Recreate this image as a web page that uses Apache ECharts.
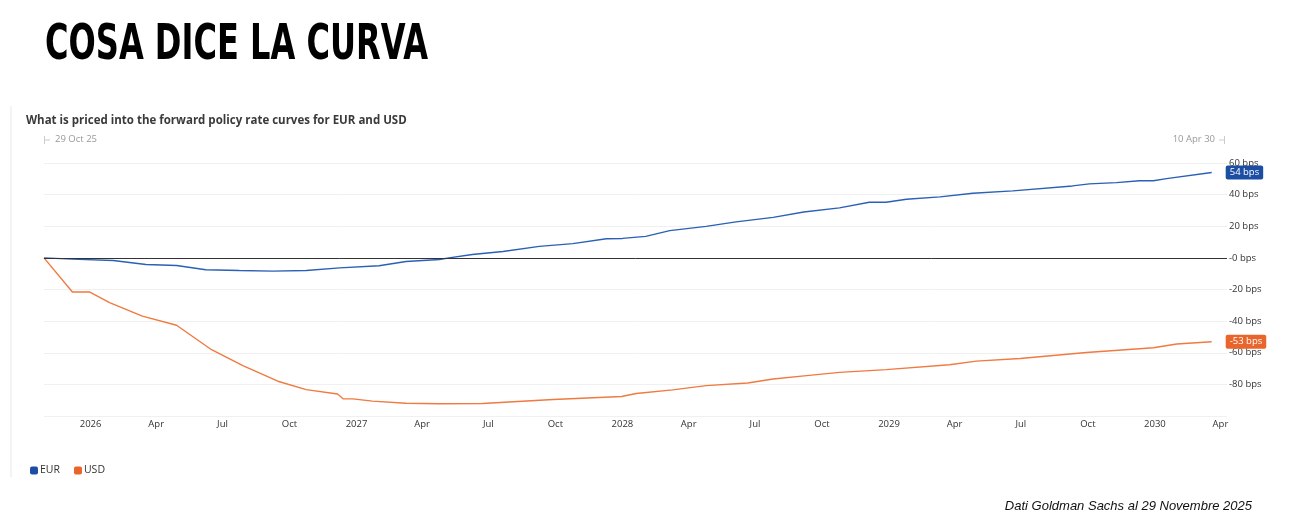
<!DOCTYPE html>
<html>
<head>
<meta charset="utf-8">
<script src="https://cdn.jsdelivr.net/npm/echarts@6/dist/echarts.min.js"></script>
<style>
html,body{margin:0;padding:0;background:#fff;}
#chart{width:1289px;height:523px;}
</style>
</head>
<body>
<div id="chart"></div>
<script>
// ---- data ----
const seriesNames = ['EUR', 'USD'];
const eurDates = ['2025-10-29','2025-12-07','2026-02-01','2026-03-18','2026-04-29','2026-06-08','2026-07-24','2026-09-08','2026-10-24','2026-12-09','2027-02-01','2027-03-10','2027-04-25','2027-05-08','2027-06-09','2027-07-21','2027-09-09','2027-10-25','2027-12-10','2028-01-01','2028-02-02','2028-03-06','2028-04-25','2028-06-05','2028-07-26','2028-09-06','2028-10-25','2028-12-05','2028-12-28','2029-01-25','2029-03-12','2029-04-26','2029-06-20','2029-09-10','2029-10-03','2029-11-09','2029-12-11','2029-12-30','2030-01-17','2030-03-20'];
const eurValues = [0,-0.8,-1.7,-4.2,-4.8,-7.5,-8.0,-8.4,-8.0,-6.3,-5.0,-2.3,-1.0,0,2.1,4.0,7.3,9.0,12.1,12.3,13.6,17.2,19.9,22.8,25.6,29.0,31.6,35.2,35.2,37.1,38.6,40.9,42.4,45.5,46.8,47.6,48.8,48.8,50.1,54.0];
const usdDates = ['2025-10-29','2025-12-07','2025-12-31','2026-01-27','2026-03-13','2026-04-29','2026-06-16','2026-07-29','2026-09-15','2026-10-24','2026-12-06','2026-12-14','2026-12-27','2027-01-23','2027-03-10','2027-04-25','2027-06-23','2027-09-28','2027-12-31','2028-01-20','2028-03-10','2028-04-25','2028-06-21','2028-07-26','2028-09-10','2028-10-25','2028-12-28','2029-03-25','2029-05-01','2029-06-30','2029-09-29','2029-12-30','2030-01-31','2030-03-20'];
const usdValues = [0,-21.6,-21.6,-28.3,-36.8,-42.6,-58.1,-68.2,-78.0,-83.3,-86.1,-89.2,-89.2,-90.6,-91.9,-92.3,-92.1,-89.6,-87.7,-85.8,-83.5,-80.8,-79.1,-76.6,-74.5,-72.4,-70.7,-67.6,-65.3,-63.6,-59.8,-56.8,-54.5,-53.0];
const tickDates = ['2026-01-01','2026-04-01','2026-07-01','2026-10-01','2027-01-01','2027-04-01','2027-07-01','2027-10-01','2028-01-01','2028-04-01','2028-07-01','2028-10-01','2029-01-01','2029-04-01','2029-07-01','2029-10-01','2030-01-01','2030-04-01'];
const tickLabels = ['2026','Apr','Jul','Oct','2027','Apr','Jul','Oct','2028','Apr','Jul','Oct','2029','Apr','Jul','Oct','2030','Apr'];
const xStart = '2025-10-29';
const xEnd = '2030-04-10';
const rangeLabels = ['29 Oct 25', '10 Apr 30'];
const titleText = 'COSA DICE LA CURVA';
const subtitleText = 'What is priced into the forward policy rate curves for EUR and USD';
const footnoteText = 'Dati Goldman Sachs al 29 Novembre 2025';

// ---- build ----
const ts = d => new Date(d + 'T00:00:00Z').getTime();
const tickTs = tickDates.map(ts);
const labelByTs = {};
tickTs.forEach((t, i) => { labelByTs[t] = tickLabels[i]; });
const eurData = eurDates.map((d, i) => [ts(d), eurValues[i]]);
const usdData = usdDates.map((d, i) => [ts(d), usdValues[i]]);

const EUR_LINE = '#2a60b6', EUR_BOX = '#1c4fa3';
const USD_LINE = '#f07a40', USD_BOX = '#e9652c';
const FONT = '"Open Sans", "Noto Sans", sans-serif';

const chart = echarts.init(document.getElementById('chart'), null, {renderer: 'canvas'});
chart.setOption({
  animation: false,
  backgroundColor: '#fff',
  textStyle: {fontFamily: FONT},
  grid: {left: 44, right: 62, top: 163, bottom: 107, containLabel: false},
  legend: {
    data: seriesNames,
    left: 25, top: 460,
    icon: 'roundRect', itemWidth: 8, itemHeight: 8, itemGap: 14,
    textStyle: {fontSize: 10.5, color: '#333', fontFamily: FONT, padding: [0, 0, 0, -3]}
  },
  xAxis: {
    type: 'value',
    min: ts(xStart), max: ts(xEnd),
    axisLine: {show: true, lineStyle: {color: '#e6e6e6'}},
    axisTick: {show: false},
    splitLine: {show: false},
    axisLabel: {
      customValues: tickTs,
      formatter: v => labelByTs[v] !== undefined ? labelByTs[v] : '',
      fontSize: 9.5, color: '#333', margin: 3, fontFamily: FONT,
      hideOverlap: false
    }
  },
  yAxis: {
    type: 'value', position: 'right',
    min: -100, max: 60, interval: 20,
    axisLine: {show: false}, axisTick: {show: false},
    splitLine: {show: true, lineStyle: {color: '#f0f0f0', width: 1}},
    axisLabel: {
      fontSize: 9.5, color: '#333', margin: 2, fontFamily: FONT,
      formatter: v => v === -100 ? '' : (v === 0 ? '-0 bps' : v + ' bps')
    }
  },
  series: [
    {
      name: 'EUR', type: 'line', data: eurData, showSymbol: false, symbol: 'none',
      color: EUR_BOX,
      lineStyle: {color: EUR_LINE, width: 1.4},
      endLabel: {
        show: true, distance: 14,
        formatter: p => Math.round(p.value[1]) + ' bps',
        backgroundColor: EUR_BOX, color: '#fff', fontSize: 9.5, fontFamily: FONT,
        padding: [2, 4, 2, 4], borderRadius: 2
      },
      markLine: {
        silent: true, symbol: 'none', animation: false,
        label: {show: false},
        lineStyle: {color: '#333', width: 1, type: 'solid'},
        data: [{yAxis: 0}]
      },
      z: 3
    },
    {
      name: 'USD', type: 'line', data: usdData, showSymbol: false, symbol: 'none',
      color: USD_BOX,
      lineStyle: {color: USD_LINE, width: 1.4},
      endLabel: {
        show: true, distance: 14,
        formatter: p => Math.round(p.value[1]) + ' bps',
        backgroundColor: USD_BOX, color: '#fff', fontSize: 9.5, fontFamily: FONT,
        padding: [2, 4, 2, 4], borderRadius: 2
      },
      z: 3
    }
  ],
  graphic: [
    {type: 'text', left: 45, top: 21, scaleX: 0.713, style: {text: titleText, font: 'bold 50px "Liberation Sans Narrow", "DejaVu Sans Condensed", sans-serif', fill: '#000'}},
    {type: 'line', shape: {x1: 11, y1: 106, x2: 11, y2: 477}, style: {stroke: '#e8e8e8', lineWidth: 1}},
    {type: 'text', left: 26, top: 115, style: {text: subtitleText, font: 'bold 11.5px ' + FONT, fill: '#3a3a3a'}},
    {type: 'text', left: 55, top: 134, style: {text: rangeLabels[0], font: '9.5px ' + FONT, fill: '#999'}},
    {type: 'line', shape: {x1: 44.5, y1: 136, x2: 44.5, y2: 144}, style: {stroke: '#ccc', lineWidth: 1}},
    {type: 'line', shape: {x1: 45, y1: 140, x2: 50, y2: 140}, style: {stroke: '#ccc', lineWidth: 1}},
    {type: 'text', right: 1289 - 1215, top: 134, style: {text: rangeLabels[1], font: '9.5px ' + FONT, fill: '#999', align: 'right'}},
    {type: 'line', shape: {x1: 1219, y1: 140, x2: 1224, y2: 140}, style: {stroke: '#ccc', lineWidth: 1}},
    {type: 'line', shape: {x1: 1224.5, y1: 136, x2: 1224.5, y2: 144}, style: {stroke: '#ccc', lineWidth: 1}},
    {type: 'text', right: 1289 - 1252, top: 500, style: {text: footnoteText, font: 'italic 13px "Liberation Sans", sans-serif', fill: '#111', align: 'right'}}
  ]
});
</script>
</body>
</html>
